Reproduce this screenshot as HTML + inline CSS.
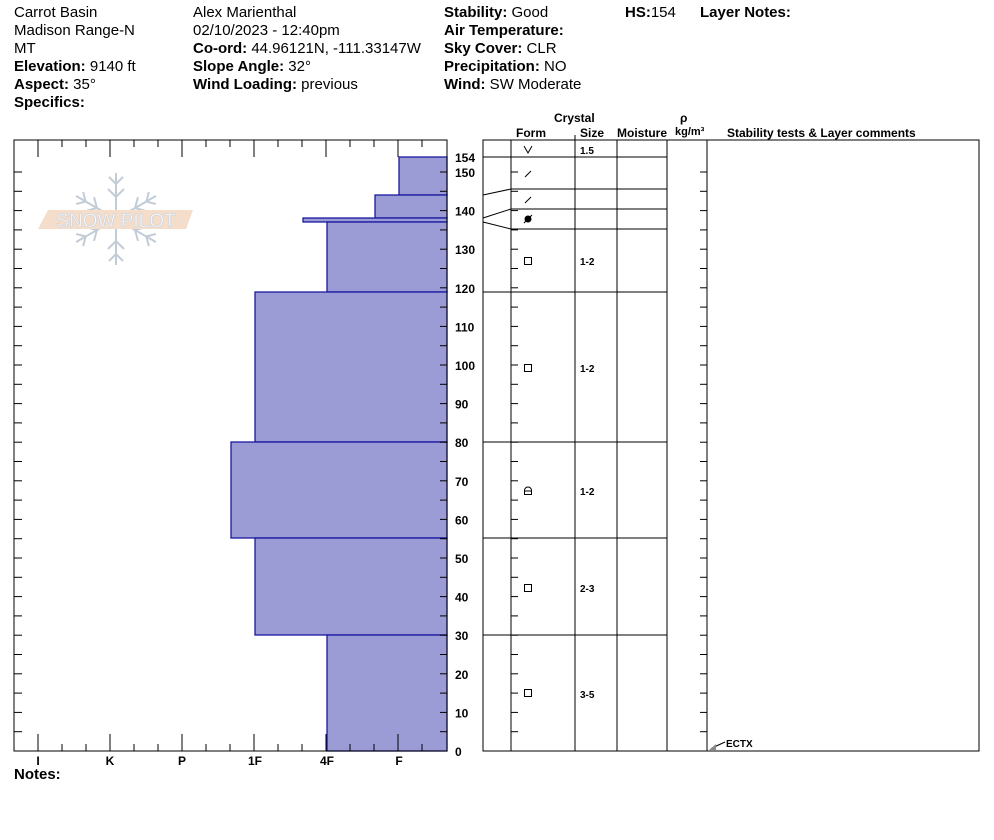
<!DOCTYPE html>
<html><head><meta charset="utf-8"><style>
body{margin:0;background:#fff;width:994px;height:840px;overflow:hidden}
svg{display:block;font-family:"Liberation Sans",Arial,sans-serif}
.h{font-size:15px;fill:#000}
.b{font-weight:bold}
.t{font-size:12px;font-weight:bold}
.s{font-size:10px;font-weight:bold}
</style></head><body>
<svg id="s" width="994" height="840" viewBox="0 0 994 840" xmlns="http://www.w3.org/2000/svg">
<g class="h">
<text x="14" y="17">Carrot Basin</text>
<text x="14" y="35">Madison Range-N</text>
<text x="14" y="53">MT</text>
<text x="14" y="71"><tspan class="b">Elevation:</tspan> 9140 ft</text>
<text x="14" y="89"><tspan class="b">Aspect:</tspan> 35°</text>
<text x="14" y="107" class="b">Specifics:</text>
<text x="193" y="17">Alex Marienthal</text>
<text x="193" y="35">02/10/2023 - 12:40pm</text>
<text x="193" y="53"><tspan class="b">Co-ord:</tspan> 44.96121N, -111.33147W</text>
<text x="193" y="71"><tspan class="b">Slope Angle:</tspan> 32°</text>
<text x="193" y="89"><tspan class="b">Wind Loading:</tspan> previous</text>
<text x="444" y="17"><tspan class="b">Stability:</tspan> Good</text>
<text x="444" y="35" class="b">Air Temperature:</text>
<text x="444" y="53"><tspan class="b">Sky Cover:</tspan> CLR</text>
<text x="444" y="71"><tspan class="b">Precipitation:</tspan> NO</text>
<text x="444" y="89"><tspan class="b">Wind:</tspan>  SW Moderate</text>
<text x="625" y="17"><tspan class="b">HS:</tspan>154</text>
<text x="700" y="17" class="b">Layer Notes:</text>
<text x="14" y="779" class="b">Notes:</text>
</g>
<g class="t">
<text x="554" y="122">Crystal</text>
<text x="516" y="137">Form</text>
<text x="580" y="137">Size</text>
<text x="617" y="137">Moisture</text>
<text x="680" y="122">ρ</text>
<text x="675" y="135" style="font-size:11px">kg/m³</text>
<text x="727" y="137">Stability tests &amp; Layer comments</text>
</g>
<!-- logo -->
<g opacity="0.85">
<g stroke="#b8c4d0" stroke-width="2" fill="none" transform="translate(116,219)">
<g id="arm"><line x1="0" y1="0" x2="0" y2="-46"/><polyline points="-8,-30 0,-22 8,-30"/><polyline points="-7,-42 0,-35 7,-42"/></g>
<use href="#arm" transform="rotate(60)"/><use href="#arm" transform="rotate(120)"/><use href="#arm" transform="rotate(180)"/><use href="#arm" transform="rotate(240)"/><use href="#arm" transform="rotate(300)"/>
</g>
<polygon points="48,210 193,210 186,229 38,229" fill="#f3d8c2"/>
<text x="116" y="227" text-anchor="middle" style="font-size:19px;fill:#fff;stroke:#c8cdd4;stroke-width:0.8">SNOW PILOT</text>
</g>
<g id="bars" fill="#9b9bd5" stroke="#1a1aa0" stroke-width="1.3"></g>
<g id="lines" stroke="#000" stroke-width="1" fill="none"></g>
<g id="labs" class="t"></g>
<g class="s">
<text x="580" y="154">1.5</text>
<text x="580" y="265">1-2</text>
<text x="580" y="372">1-2</text>
<text x="580" y="495">1-2</text>
<text x="580" y="592">2-3</text>
<text x="580" y="698">3-5</text>
<text x="726" y="747">ECTX</text>
</g>
<g stroke="#000" fill="none" stroke-width="1">
<polyline points="524,146 528,153 532,146"/>
<line x1="525" y1="177" x2="531" y2="171"/>
<line x1="525" y1="203" x2="531" y2="197"/>
<circle cx="528" cy="219" r="3" fill="#000"/><line x1="524" y1="223" x2="532" y2="215"/>
<rect x="524.5" y="257.5" width="7" height="7"/>
<rect x="524.5" y="364.5" width="7" height="7"/>
<path d="M524.5,494.5 v-4 a3.5,3.5 0 0 1 7,0 v4 z M524.5,491 h7"/>
<rect x="524.5" y="584.5" width="7" height="7"/>
<rect x="524.5" y="689.5" width="7" height="7"/>
<line x1="725" y1="742" x2="712" y2="748" stroke="#000"/>
<polygon points="709,750 716,744 716,750" fill="#888" stroke="none"/>
</g>
</svg>
<script>
var ns="http://www.w3.org/2000/svg";
function Y(h){return 751-3.86*h;}
function el(p,t,a,txt){var e=document.createElementNS(ns,t);for(var k in a)e.setAttribute(k,a[k]);if(txt!=null)e.textContent=txt;document.getElementById(p).appendChild(e);}
function L(x1,y1,x2,y2){el("lines","line",{x1:x1,y1:y1,x2:x2,y2:y2});}
[[399,157,195],[375,195,218],[303,218,222],[327,222,292],[255,292,442],[231,442,538],[255,538,635],[327,635,751]].forEach(function(b){
 el("bars","rect",{x:b[0],y:b[1],width:447-b[0],height:b[2]-b[1]});});
el("lines","rect",{x:14,y:140,width:433,height:611});
for(var i=0;i<18;i++){var x=14+24*i;var len=(i%3==1)?17:7;if(x>14&&x<447){L(x,140,x,140+len);L(x,751,x,751-len);}}
for(var h=5;h<=150;h+=5){var y=Y(h);L(14,y,22,y);L(447,y,440,y);L(511,y,518,y);L(707,y,700,y);}
[["I",38],["K",110],["P",182],["1F",255],["4F",327],["F",399]].forEach(function(a){el("labs","text",{x:a[1],y:765,"text-anchor":"middle"},a[0]);});
for(var h=0;h<=150;h+=10){el("labs","text",{x:455,y:Y(h)+5},String(h));}
el("labs","text",{x:455,y:162},"154");
el("lines","rect",{x:483,y:140,width:496,height:611});
[511,575,617,667,707].forEach(function(x){L(x,140,x,751);});
L(575,135,575,140);
[157,189,209,229].forEach(function(y){L(511,y,667,y);});
[292,442,538,635].forEach(function(y){L(483,y,667,y);});
L(483,157,511,157);
L(483,195,511,189);L(483,218,511,209);L(483,222,511,229);
</script>
</body></html>
